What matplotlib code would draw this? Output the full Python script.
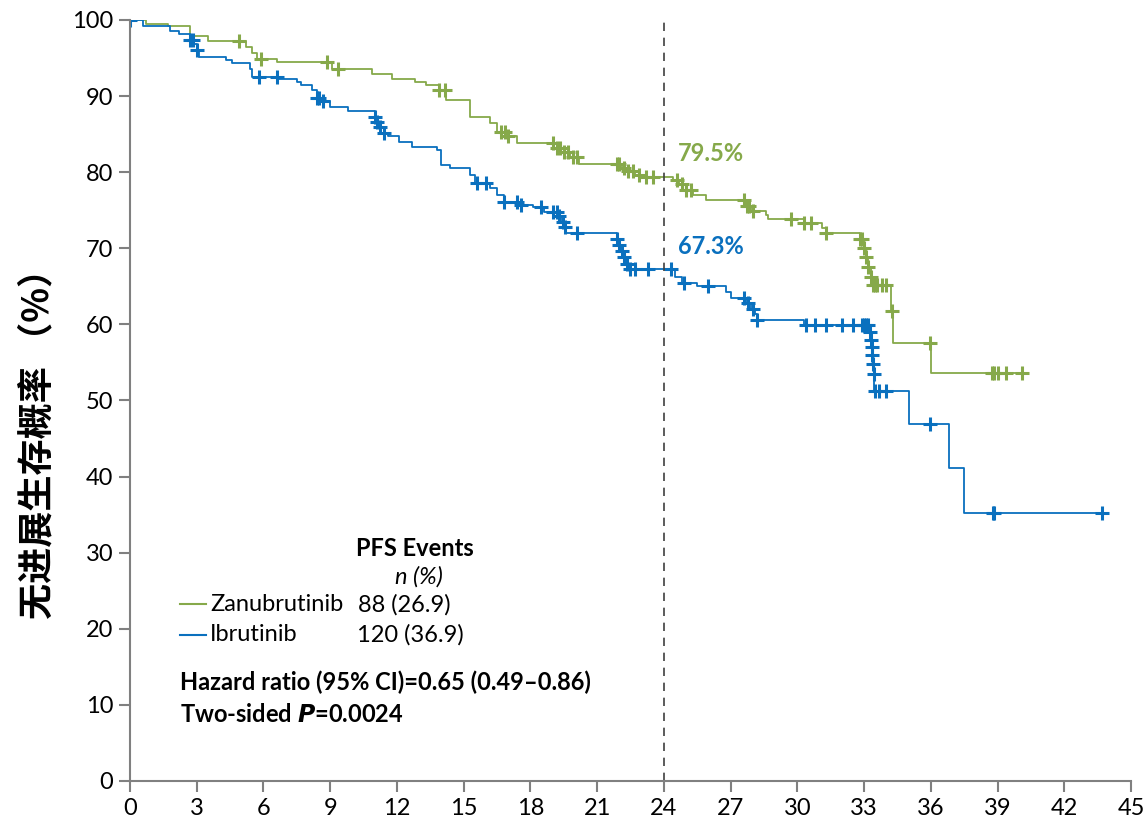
import numpy as np
import matplotlib
matplotlib.use('Agg')
import matplotlib.pyplot as plt

# Kaplan-Meier steps (month, PFS %)
zanu_t = [0, 0.7, 1.7, 2.7, 3.5, 5.2, 5.5, 5.7, 6.6, 9.1, 10.9, 11.8, 12.8, 13.3, 13.9, 14.2,
          15.3, 16.2, 16.5, 16.9, 17.4, 19.2, 19.5, 19.8, 20.2, 22.1, 22.4, 22.7, 23.0, 24.4,
          24.7, 25.0, 25.3, 25.9, 27.7, 27.9, 28.6, 28.7, 30.3, 31.1, 31.3, 32.8, 33.0, 33.1,
          33.2, 33.3, 33.4, 34.2, 34.3, 36.0, 40.1]
zanu_s = [100, 99.5, 99.2, 97.9, 97.2, 96.5, 95.7, 94.9, 94.5, 93.6, 92.9, 92.3, 91.9, 91.5, 90.8, 89.5,
          87.3, 86.5, 85.3, 84.8, 83.8, 83.2, 82.6, 82.0, 81.1, 80.6, 80.1, 79.6, 79.4, 79.0,
          78.4, 77.7, 77.0, 76.3, 75.5, 74.9, 74.4, 73.8, 73.3, 72.7, 72.0, 71.2, 70.0, 68.8,
          67.5, 66.2, 65.2, 61.7, 57.6, 53.6, 53.6]
zanu_cens = [4.9, 5.9, 8.85, 9.35, 13.9, 14.15, 16.7, 16.85, 17.0, 19.0, 19.2, 19.35, 19.5, 19.7,
             19.9, 20.1, 21.9, 22.0, 22.2, 22.4, 22.6, 22.9, 23.2, 23.5, 24.6, 24.8, 25.0, 25.2,
             27.6, 27.75, 27.85, 28.0, 29.7, 30.3, 30.6, 31.3, 32.8, 32.9, 33.0, 33.1, 33.2, 33.3,
             33.4, 33.5, 33.6, 33.8, 34.0, 34.25, 35.95, 38.75, 38.85, 39.0, 39.4, 40.1]

ibru_t = [0, 0.6, 1.8, 2.2, 2.7, 2.9, 3.0, 3.1, 4.3, 4.6, 5.4, 5.5, 6.7, 7.5, 7.7, 8.2, 8.4, 8.6,
          9.0, 9.8, 11.0, 11.1, 11.2, 11.3, 11.6, 12.1, 12.7, 13.8, 14.0, 14.4, 15.3, 15.5, 16.2,
          16.5, 16.8, 17.6, 18.1, 18.6, 19.3, 19.4, 19.5, 19.6, 21.9, 22.0, 22.1, 22.2, 22.3, 22.5,
          24.5, 24.8, 25.5, 26.8, 27.0, 27.7, 27.9, 28.1, 28.2, 30.3, 33.25, 33.3, 33.33, 33.36,
          33.4, 33.43, 33.46, 35.0, 36.8, 37.5, 43.7]
ibru_s = [100, 99.2, 98.6, 98.2, 97.4, 96.8, 96.1, 95.2, 94.7, 94.3, 93.6, 92.5, 92.3, 91.9, 91.5,
          90.8, 89.7, 89.3, 88.6, 88.0, 87.3, 86.6, 85.9, 85.2, 84.8, 84.0, 83.3, 82.9, 80.9, 80.5,
          79.6, 78.6, 77.9, 77.0, 76.1, 75.7, 75.4, 74.8, 74.2, 73.5, 72.8, 72.0, 71.2, 70.4, 69.6,
          68.8, 68.0, 67.3, 66.2, 65.5, 65.0, 64.3, 63.5, 62.8, 62.0, 61.3, 60.6, 59.9, 59.0, 58.0,
          57.0, 56.0, 54.8, 53.5, 51.2, 46.9, 41.1, 35.2, 35.2]
ibru_cens = [0, 2.7, 2.85, 3.0, 5.8, 6.6, 8.4, 8.5, 8.7, 11.0, 11.1, 11.25, 11.4, 15.6, 16.0, 16.8,
             17.4, 17.6, 18.5, 19.0, 19.2, 19.3, 19.45, 19.55, 20.1, 21.9, 22.0, 22.1, 22.2, 22.35,
             22.5, 22.7, 23.3, 24.3, 24.9, 26.0, 27.6, 27.8, 28.0, 28.2, 30.4, 30.8, 31.3, 32.0,
             32.5, 32.9, 33.0, 33.1, 33.2, 33.28, 33.31, 33.35, 33.38, 33.41, 33.44, 33.5, 33.65,
             34.0, 35.95, 38.8, 38.85, 43.7]

green = '#86A94A'
blue = '#0A70BE'
gray = '#808080'
font = 'Lato'


def km_at(times, surv, t):
    i = np.searchsorted(times, t, side='right') - 1
    return surv[i]


fig = plt.figure(figsize=(11.46, 8.19), dpi=100)
ax = fig.add_axes([0.1134, 0.0464, 0.8735, 0.9292])

for t, s, c, col in [(zanu_t, zanu_s, zanu_cens, green), (ibru_t, ibru_s, ibru_cens, blue)]:
    ax.plot(t, s, drawstyle='steps-post', color=col, lw=1.3)
    cy = [km_at(np.array(t), np.array(s), x) for x in c]
    ax.plot(c, cy, ls='none', marker='+', ms=10, mew=2.2, color=col)

ax.plot([24, 24], [0, 100], ls=(0, (5, 4)), color='#404040', lw=1.2)

ax.set_xlim(0, 45)
ax.set_ylim(0, 100)
ax.set_xticks(np.arange(0, 46, 3))
ax.set_yticks(np.arange(0, 101, 10))
for side in ['top', 'right']:
    ax.spines[side].set_visible(False)
for side in ['left', 'bottom']:
    ax.spines[side].set_color(gray)
    ax.spines[side].set_linewidth(1.5)
ax.tick_params(length=8, width=1.5, color=gray, labelsize=17, pad=4)
for lab in ax.get_xticklabels() + ax.get_yticklabels():
    lab.set_fontfamily(font)

ax.set_ylabel('无进展生存概率 （%）', family=['Noto Sans CJK SC', 'DejaVu Sans'],
              fontsize=26, fontweight='bold')
ax.yaxis.set_label_coords(-0.074, 0.455)

ax.text(24.65, 82.5, '79.5%', color=green, fontsize=17, fontweight='bold', family=font, va='center')
ax.text(24.65, 70.3, '67.3%', color=blue, fontsize=17, fontweight='bold', family=font, va='center')

fs = 17
ax.text(12.8, 30.5, 'PFS Events', fontsize=fs, fontweight='bold', family=font, ha='center', va='center')
ax.text(13.0, 26.8, 'n (%)', fontsize=fs, style='italic', family=font, ha='center', va='center')
ax.plot([2.25, 3.4], [23.2, 23.2], color=green, lw=1.5)
ax.plot([2.25, 3.4], [19.2, 19.2], color=blue, lw=1.5)
ax.text(3.6, 23.2, 'Zanubrutinib', fontsize=fs, family=font, va='center')
ax.text(10.25, 23.2, '88 (26.9)', fontsize=fs, family=font, va='center')
ax.text(3.6, 19.2, 'Ibrutinib', fontsize=fs, family=font, va='center')
ax.text(10.2, 19.2, '120 (36.9)', fontsize=fs, family=font, va='center')
ax.text(2.25, 13.0, 'Hazard ratio (95% CI)=0.65 (0.49\u20130.86)', fontsize=fs, fontweight='bold',
        family=font, va='center')
ax.text(2.25, 8.8, 'Two-sided $\\bfit{P}$=0.0024', fontsize=fs, fontweight='bold', family=font, va='center')

fig.savefig('out.png', dpi=100)
